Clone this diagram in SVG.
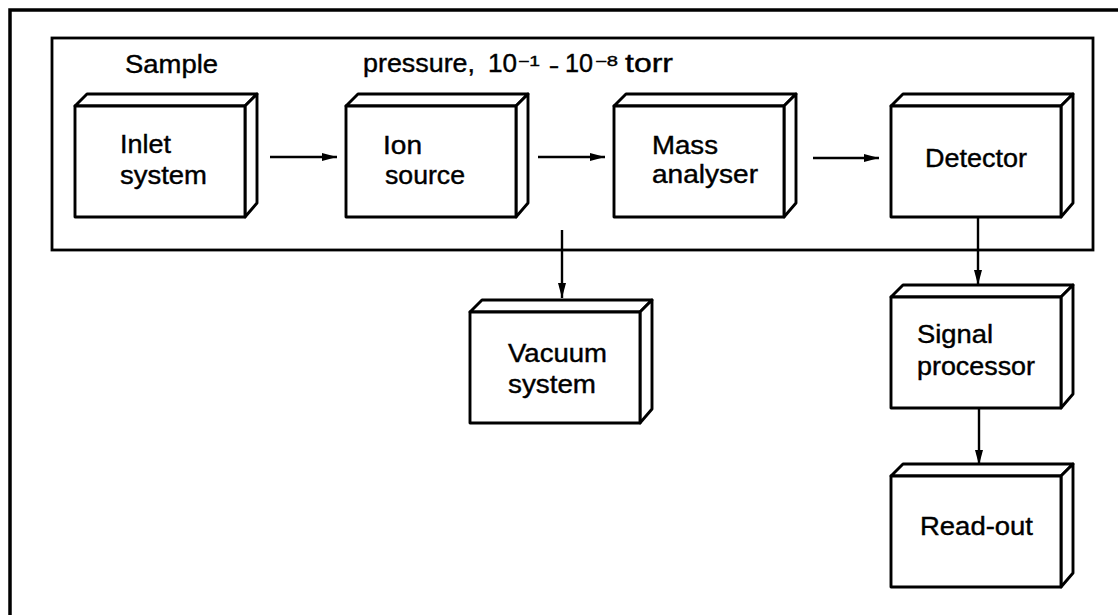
<svg xmlns="http://www.w3.org/2000/svg" width="1118" height="615" viewBox="0 0 1118 615">
  <defs>
    <style>
      .frame { fill: none; stroke: #000; stroke-width: 3.5; }
      .chamber { fill: none; stroke: #000; stroke-width: 2.8; }
      .face { fill: #fff; stroke: #000; stroke-width: 2.9; stroke-linejoin: round; }
      .link { fill: none; stroke: #000; stroke-width: 2.4; marker-end: url(#head); }
      .lbl { font-family: "Liberation Sans", Arial, Helvetica, sans-serif; font-size: 25px; fill: #000; stroke: #000; stroke-width: 0.4; }
      .sup { font-size: 14px; }
    </style>
    <marker id="head" viewBox="0 0 15 8" refX="15" refY="4" markerWidth="15" markerHeight="8" markerUnits="userSpaceOnUse" orient="auto">
      <path d="M0,0 L15,4 L0,8 Z" fill="#000"/>
    </marker>
    <!-- block with front face 170x111 and a 12px receding top/right face -->
    <g id="block">
      <path class="face" d="M0,0 L12,-12 L182,-12 L170,0 Z"/>
      <path class="face" d="M170,0 L182,-12 L182,97 L170,111 Z"/>
      <rect class="face" x="0" y="0" width="170" height="111"/>
    </g>
  </defs>

  <rect width="1118" height="615" fill="#fff"/>

  <!-- outer frame -->
  <rect class="frame" x="10" y="10" width="1130" height="640"/>

  <!-- evacuated region -->
  <rect id="vacuum-region" class="chamber" x="52" y="38" width="1041" height="212"/>

  <text class="lbl" x="125" y="73" textLength="93" lengthAdjust="spacingAndGlyphs">Sample</text>
  <g id="pressure-label">
    <text class="lbl" x="363" y="72" textLength="112" lengthAdjust="spacingAndGlyphs">pressure,</text>
    <text class="lbl" x="488" y="72" textLength="29" lengthAdjust="spacingAndGlyphs">10</text>
    <text class="lbl sup" x="518" y="66" textLength="22" lengthAdjust="spacingAndGlyphs">−1</text>
    <text class="lbl" x="550" y="74" textLength="8" lengthAdjust="spacingAndGlyphs">–</text>
    <text class="lbl" x="565" y="72" textLength="28" lengthAdjust="spacingAndGlyphs">10</text>
    <text class="lbl sup" x="595" y="66" textLength="23" lengthAdjust="spacingAndGlyphs">−8</text>
    <text class="lbl" x="625" y="72" textLength="48" lengthAdjust="spacingAndGlyphs">torr</text>
  </g>

  <!-- connectors -->
  <g id="connectors">
    <line class="link" x1="270" y1="157" x2="337" y2="157"/>
    <line class="link" x1="538" y1="157" x2="605" y2="157"/>
    <line class="link" x1="813" y1="158" x2="879" y2="158"/>
    <line class="link" x1="562" y1="230" x2="562" y2="298"/>
    <line class="link" x1="978" y1="217" x2="978" y2="285"/>
    <line class="link" x1="979" y1="407" x2="979" y2="465"/>
  </g>

  <g id="inlet-system">
    <use href="#block" x="75" y="106"/>
    <text class="lbl" x="120" y="153" textLength="51" lengthAdjust="spacingAndGlyphs">Inlet</text>
    <text class="lbl" x="120" y="184" textLength="87" lengthAdjust="spacingAndGlyphs">system</text>
  </g>

  <g id="ion-source">
    <use href="#block" x="346" y="106"/>
    <text class="lbl" x="383" y="154" textLength="39" lengthAdjust="spacingAndGlyphs">Ion</text>
    <text class="lbl" x="385" y="184" textLength="80" lengthAdjust="spacingAndGlyphs">source</text>
  </g>

  <g id="mass-analyser">
    <use href="#block" x="614" y="106"/>
    <text class="lbl" x="652" y="154" textLength="66" lengthAdjust="spacingAndGlyphs">Mass</text>
    <text class="lbl" x="652" y="183" textLength="106" lengthAdjust="spacingAndGlyphs">analyser</text>
  </g>

  <g id="detector">
    <use href="#block" x="891" y="106"/>
    <text class="lbl" x="925" y="167" textLength="102" lengthAdjust="spacingAndGlyphs">Detector</text>
  </g>

  <g id="vacuum-system">
    <use href="#block" x="470" y="312"/>
    <text class="lbl" x="508" y="362" textLength="99" lengthAdjust="spacingAndGlyphs">Vacuum</text>
    <text class="lbl" x="508" y="393" textLength="88" lengthAdjust="spacingAndGlyphs">system</text>
  </g>

  <g id="signal-processor">
    <use href="#block" x="891" y="297"/>
    <text class="lbl" x="917" y="343" textLength="76" lengthAdjust="spacingAndGlyphs">Signal</text>
    <text class="lbl" x="917" y="375" textLength="118" lengthAdjust="spacingAndGlyphs">processor</text>
  </g>

  <g id="read-out">
    <use href="#block" x="891" y="476"/>
    <text class="lbl" x="920" y="535" textLength="113" lengthAdjust="spacingAndGlyphs">Read-out</text>
  </g>
</svg>
